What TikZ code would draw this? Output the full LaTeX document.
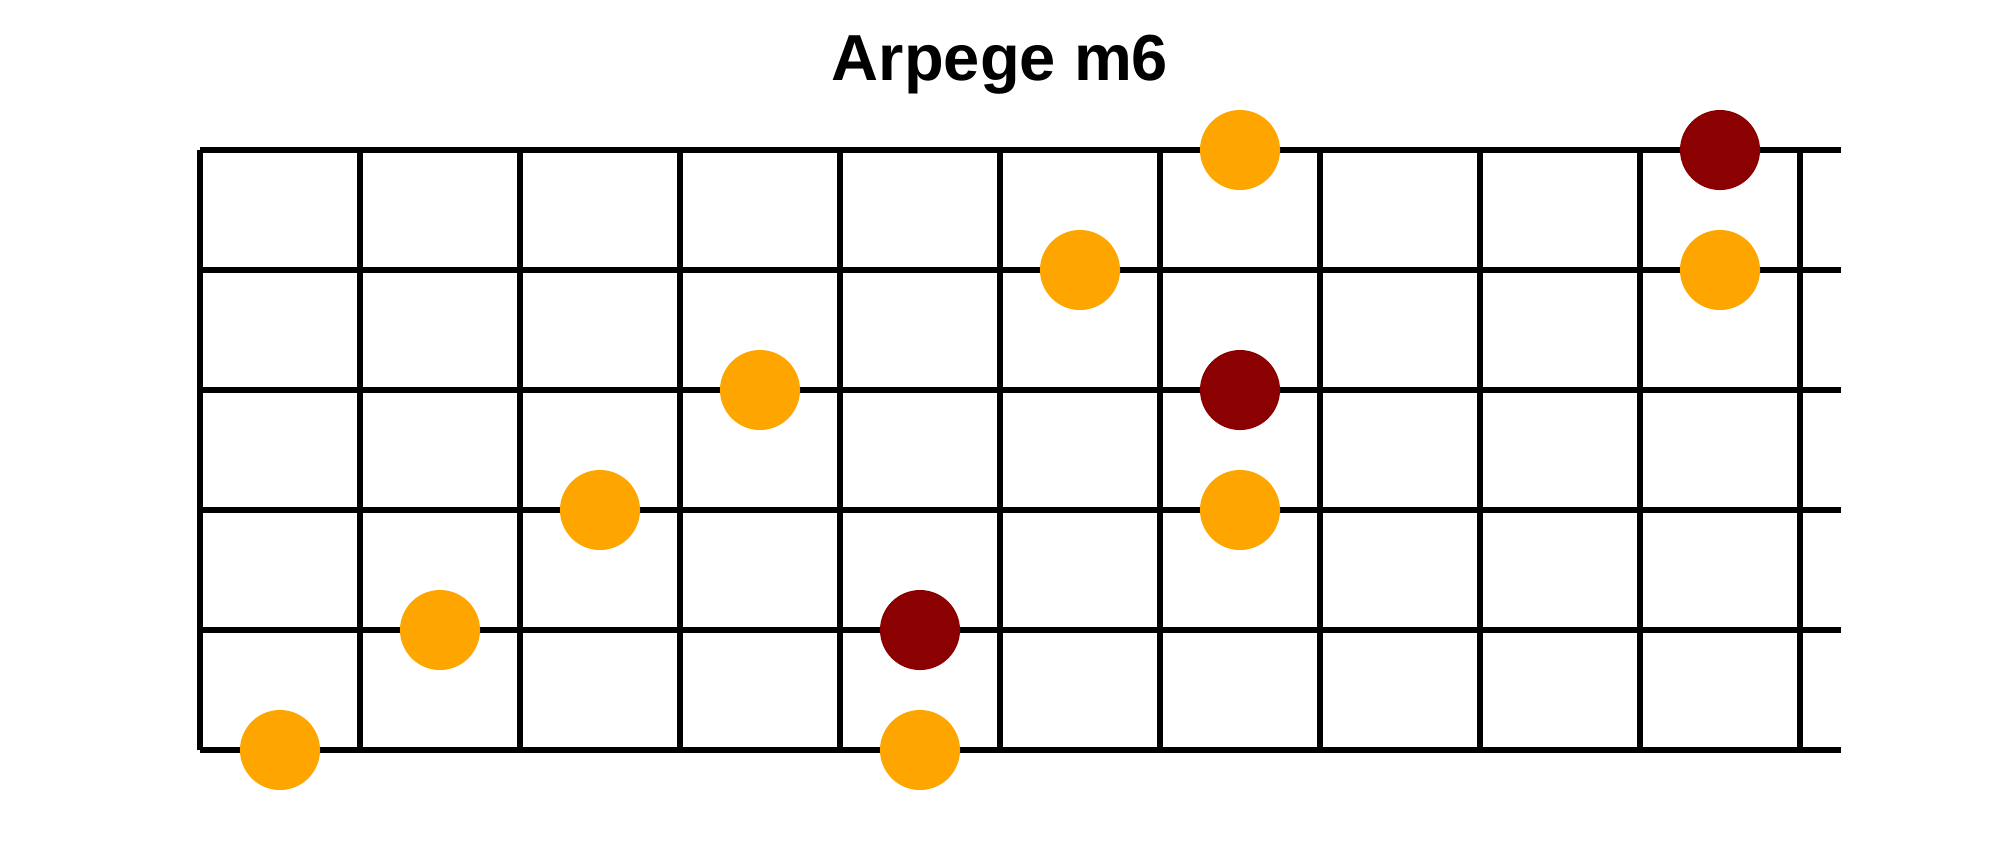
\documentclass[tikz,border=0pt]{standalone}
\usepackage{fontspec}
\setmainfont{Liberation Sans}
\usepackage{tikz}
\definecolor{noteorange}{HTML}{FFA500}
\definecolor{rootred}{HTML}{8B0000}
\tikzstyle{scale note} = [circle,fill=noteorange,minimum size=8mm,inner sep=0]
\tikzstyle{root note}  = [circle,fill=rootred,minimum size=8mm,inner sep=0]
\tikzstyle{fret line}  = [line width=1.6pt]

\begin{document}
\begin{tikzpicture}[x=0.01cm, y=-0.01cm]

    \useasboundingbox (0,0) rectangle (2000,850);

    % Title
    \node(title)[anchor=base, font=\bfseries\fontsize{18.5}{22}\selectfont] at (1000,80) {Arpege m6};

    % Strings
    \foreach \s in {0,...,5}
        \draw[fret line] (200,150+120*\s) -- (1841,150+120*\s);

    % Frets
    \foreach \f in {0,...,10}
        \draw[fret line] (200+160*\f,150) -- (200+160*\f,750);

    % String 1
    \node(n1a)[scale note] at (1240,150) {};
    \node(n1b)[root note]  at (1720,150) {};
    % String 2
    \node(n2a)[scale note] at (1080,270) {};
    \node(n2b)[scale note] at (1720,270) {};
    % String 3
    \node(n3a)[scale note] at (760,390) {};
    \node(n3b)[root note]  at (1240,390) {};
    % String 4
    \node(n4a)[scale note] at (600,510) {};
    \node(n4b)[scale note] at (1240,510) {};
    % String 5
    \node(n5a)[scale note] at (440,630) {};
    \node(n5b)[root note]  at (920,630) {};
    % String 6
    \node(n6a)[scale note] at (280,750) {};
    \node(n6b)[scale note] at (920,750) {};

\end{tikzpicture}
\end{document}
